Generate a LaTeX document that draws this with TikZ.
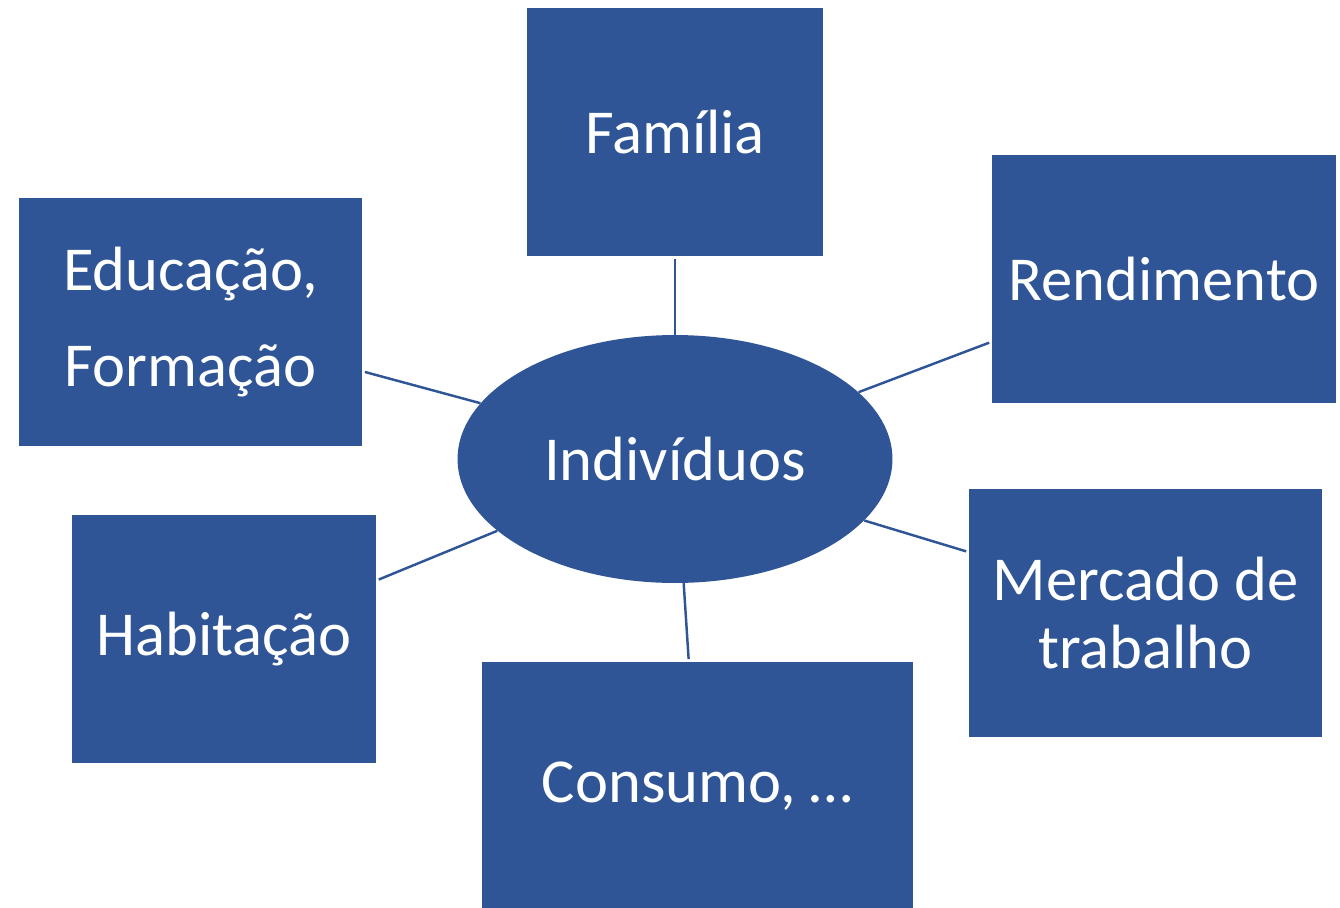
\documentclass[tikz,border=0pt]{standalone}
\usepackage{fontspec}
\setmainfont{Carlito}
\usetikzlibrary{shapes}
\definecolor{azul}{RGB}{47,85,151}

\begin{document}
\begin{tikzpicture}[x=0.02cm,y=-0.02cm,
	caixa/.style={fill=azul,text=white,minimum height=4.96cm,align=center,inner sep=0pt},
	liga/.style={draw=azul,line width=1.4pt,shorten >=1.5pt}]
			\tikzstyle{every node}=[font=\fontsize{35.6}{38.5}\selectfont]
			\useasboundingbox (0,0) rectangle (1340,907);
			
			\node[caixa,minimum width=5.92cm] (familia) at (675,132) {Família};
			\node[caixa,minimum width=6.88cm] (rendimento) at (1164,279) {Rendimento};
			\node[caixa,minimum width=6.86cm] (educacao) at (190.5,322) {Educação,\\[16.5pt]Formação};
			\node[caixa,minimum width=6.08cm] (habitacao) at (224,639) {Habitação};
			\node[caixa,minimum width=8.62cm] (consumo) at (697.5,786) {Consumo, …};
			\node[caixa,minimum width=7.06cm] (mercado) at (1145.5,613) {Mercado de\\trabalho};
			\node[ellipse,fill=azul,text=white,minimum width=8.7cm,minimum height=4.96cm,inner sep=0pt] (individuos) at (675,459) {Indivíduos};
			
			\draw[liga] (individuos.north) -- (familia.south);
			\draw[liga] (individuos.20.5) -- (rendimento.200.2);
			\draw[liga] (individuos.164.1) -- (educacao.344.4);
			\draw[liga] (individuos.202) -- (habitacao.21.7);
			\draw[liga] (individuos.342) -- (mercado.161.8);
			\draw[liga] (individuos.274.2) -- (consumo.94.3);
			
			\end{tikzpicture}
\end{document}
